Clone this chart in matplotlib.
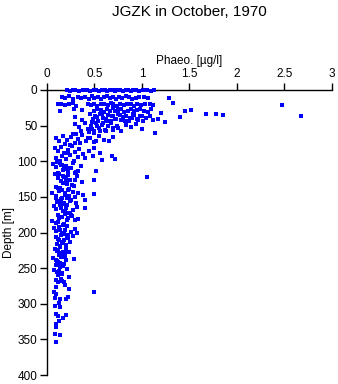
import matplotlib.pyplot as plt
import numpy as np

plt.rcParams['font.family'] = ['Liberation Sans', 'DejaVu Sans']

# Phaeo [ug/l] and depth [m]
phaeo_0_2 = [0.21, 0.24, 0.27, 0.3, 0.34, 0.38, 0.42, 0.45, 0.49, 0.52, 0.55, 0.58, 0.61, 0.63, 0.66,
             0.69, 0.72, 0.74, 0.77, 0.8, 0.83, 0.85, 0.88, 0.91, 0.94, 0.97, 1.01, 1.05, 1.09, 1.13]
depth_0_2 = [0, 1, 0, 0, 1, 0, 0, 1, 0, 0, 1, 0, 0, 1, 0, 0, 1, 0, 0, 1, 0, 0, 1, 0, 0, 1, 0, 0, 1, 0]

phaeo_10 = [0.16, 0.19, 0.23, 0.27, 0.33, 0.36, 0.4, 0.44, 0.47, 0.5, 0.54, 0.57, 0.6, 0.63, 0.66, 0.7,
            0.73, 0.76, 0.79, 0.83, 0.86, 0.9, 0.94, 0.97, 1.02, 1.06, 1.28]
depth_10 = [10, 11, 9, 12, 10, 11, 10, 12, 9, 11, 10, 12, 10, 9, 11, 10, 12, 10, 11, 9, 10, 12, 11, 10,
            10, 11, 11]

phaeo_20 = [0.12, 0.15, 0.19, 0.23, 0.27, 0.31, 0.43, 0.46, 0.5, 0.53, 0.57, 0.6, 0.64, 0.67, 0.7, 0.74,
            0.77, 0.81, 0.84, 0.88, 0.92, 0.95, 0.99, 1.03, 1.08, 1.12, 1.33, 2.47]
depth_20 = [20, 19, 21, 20, 18, 22, 19, 21, 20, 22, 19, 20, 21, 18, 20, 22, 19, 21, 20, 19, 22, 20, 21,
            19, 20, 21, 18, 21]

phaeo_30 = [0.14, 0.28, 0.37, 0.5, 0.53, 0.57, 0.6, 0.63, 0.66, 0.69, 0.72, 0.75, 0.78, 0.81, 0.85, 0.88,
            0.92, 0.95, 0.98, 1.02, 1.06, 1.1, 1.45, 1.52, 1.2]
depth_30 = [29, 27, 28, 30, 26, 28, 31, 27, 29, 25, 30, 28, 26, 31, 29, 27, 30, 28, 26, 29, 31, 27, 30,
            28, 32]

phaeo_40 = [0.3, 0.37, 0.45, 0.48, 0.51, 0.54, 0.56, 0.59, 0.62, 0.64, 0.67, 0.7, 0.72, 0.75, 0.78, 0.8,
            0.83, 0.86, 0.89, 0.92, 0.95, 0.98, 1.01, 1.04, 1.08, 1.12, 1.17, 0.47, 0.53, 0.58, 0.63,
            0.68, 0.73, 0.77, 0.82, 0.87, 0.91, 0.96, 1.0, 1.4, 1.67, 1.78, 1.85, 2.67, 1.24]
depth_40 = [38, 42, 34, 40, 36, 43, 33, 39, 41, 35, 44, 37, 40, 34, 42, 38, 36, 43, 39, 35, 41, 37, 44,
            39, 36, 42, 40, 45, 38, 33, 44, 36, 41, 35, 43, 39, 34, 42, 37, 38, 34, 33, 35, 37, 45]

phaeo_50 = [0.3, 0.34, 0.4, 0.43, 0.46, 0.49, 0.52, 0.55, 0.58, 0.61, 0.64, 0.67, 0.7, 0.74, 0.78, 0.83,
            0.88, 0.94, 1.0, 1.14, 0.44, 0.5, 0.56, 0.62, 0.69, 0.75, 0.36, 0.47, 0.53, 0.59]
depth_50 = [48, 52, 46, 55, 50, 58, 47, 53, 49, 56, 51, 47, 54, 50, 57, 49, 52, 48, 55, 61, 59, 60, 57,
            58, 56, 53, 57, 55, 51, 47]

phaeo_70 = [0.1, 0.13, 0.17, 0.21, 0.25, 0.29, 0.33, 0.37, 0.41, 0.45, 0.5, 0.55, 0.6, 0.65, 0.7, 0.19,
            0.27, 0.35, 0.43, 0.52, 0.24, 0.31]
depth_70 = [68, 72, 64, 70, 66, 74, 69, 63, 71, 67, 73, 65, 70, 72, 66, 76, 62, 75, 68, 71, 77, 62]

phaeo_90 = [0.08, 0.12, 0.15, 0.18, 0.22, 0.26, 0.3, 0.34, 0.38, 0.44, 0.5, 0.56, 0.68, 0.1, 0.16, 0.2,
            0.24, 0.28, 0.33, 0.4, 0.48, 0.58, 0.72, 0.14, 0.22]
depth_90 = [82, 86, 80, 88, 84, 79, 87, 83, 90, 85, 81, 89, 92, 95, 93, 97, 91, 99, 94, 96, 92, 98, 97,
            100, 89]

phaeo_110 = [0.06, 0.1, 0.14, 0.17, 0.2, 0.23, 0.27, 0.31, 0.36, 0.52, 0.12, 0.16, 0.19, 0.22, 0.25,
             0.29, 0.33, 0.08, 1.05]
depth_110 = [104, 108, 102, 112, 106, 110, 103, 115, 107, 113, 117, 105, 111, 119, 109, 116, 114, 118,
             122]

phaeo_130 = [0.12, 0.15, 0.18, 0.21, 0.24, 0.28, 0.32, 0.37, 0.49, 0.14, 0.17, 0.2, 0.23, 0.26, 0.3,
             0.1, 0.19]
depth_130 = [124, 128, 122, 132, 126, 135, 121, 129, 127, 137, 131, 125, 139, 133, 127, 136, 130]

phaeo_150 = [0.05, 0.09, 0.13, 0.16, 0.19, 0.22, 0.25, 0.29, 0.33, 0.38, 0.5, 0.11, 0.15, 0.18, 0.21,
             0.24, 0.27, 0.31, 0.4]
depth_150 = [145, 149, 142, 152, 147, 141, 154, 150, 144, 148, 146, 157, 153, 159, 151, 156, 143, 158,
             155]

phaeo_175 = [0.07, 0.1, 0.14, 0.17, 0.2, 0.23, 0.27, 0.32, 0.4, 0.12, 0.16, 0.19, 0.22, 0.25, 0.3,
             0.05, 0.09, 0.13, 0.18, 0.21, 0.26, 0.33]
depth_175 = [163, 167, 161, 170, 165, 172, 168, 164, 166, 175, 178, 174, 180, 176, 182, 184, 186, 179,
             188, 183, 177, 181]

phaeo_205 = [0.07, 0.1, 0.13, 0.16, 0.19, 0.22, 0.25, 0.29, 0.32, 0.09, 0.12, 0.15, 0.18, 0.21, 0.24,
             0.27, 0.11, 0.14, 0.17, 0.2]
depth_205 = [194, 198, 192, 201, 196, 203, 199, 195, 200, 206, 209, 204, 211, 207, 213, 205, 216, 219,
             214, 217]

phaeo_240 = [0.08, 0.11, 0.14, 0.17, 0.2, 0.23, 0.13, 0.16, 0.19, 0.06, 0.1, 0.15, 0.2, 0.28, 0.12,
             0.09, 0.14, 0.18, 0.07, 0.11, 0.16, 0.23]
depth_240 = [223, 226, 221, 228, 224, 227, 231, 234, 230, 236, 239, 235, 238, 237, 242, 246, 249, 244,
             252, 255, 258, 263]

# the dense column between 100 and 270 m
phaeo_column = [0.11, 0.15, 0.18, 0.22, 0.13, 0.17, 0.2, 0.26, 0.12, 0.16, 0.19, 0.23, 0.1, 0.14, 0.18,
                0.21, 0.15, 0.19, 0.24, 0.12, 0.17, 0.21, 0.14, 0.18, 0.22, 0.13, 0.16, 0.2, 0.12, 0.15,
                0.19, 0.11, 0.14, 0.17, 0.21, 0.13, 0.16, 0.12, 0.15, 0.18]
depth_column = [101, 105, 109, 113, 118, 121, 126, 133, 138, 140, 144, 149, 152, 156, 160, 162, 166,
                171, 173, 185, 189, 191, 197, 202, 208, 210, 215, 220, 225, 229, 233, 240, 243, 247,
                251, 254, 257, 260, 265, 269]

phaeo_deep = [0.09, 0.12, 0.16, 0.19, 0.1, 0.23, 0.5, 0.07, 0.1, 0.08, 0.14, 0.2, 0.22, 0.13, 0.08,
              0.14, 0.09, 0.12, 0.2, 0.17, 0.13, 0.09, 0.1, 0.08, 0.14, 0.1]
depth_deep = [266, 270, 268, 274, 276, 279, 284, 283, 286, 292, 294, 293, 291, 299, 303, 305, 314, 317,
              316, 320, 324, 329, 333, 343, 344, 353]

phaeo = np.concatenate([phaeo_0_2, phaeo_10, phaeo_20, phaeo_30, phaeo_40, phaeo_50, phaeo_70,
                        phaeo_90, phaeo_110, phaeo_130, phaeo_150, phaeo_175, phaeo_205, phaeo_240,
                        phaeo_column, phaeo_deep])
depth = np.concatenate([depth_0_2, depth_10, depth_20, depth_30, depth_40, depth_50, depth_70,
                        depth_90, depth_110, depth_130, depth_150, depth_175, depth_205, depth_240,
                        depth_column, depth_deep])

fig = plt.figure(figsize=(3.38, 3.84), dpi=100)
ax = fig.add_axes([47 / 338, 9 / 384, 285 / 338, 285 / 384])

ax.scatter(phaeo, depth, s=5, marker='s', color='#0000ff', linewidths=0, clip_on=False, zorder=3)

ax.set_xlim(0, 3)
ax.set_ylim(400, 0)
ax.set_xticks([0, 0.5, 1, 1.5, 2, 2.5, 3])
ax.set_xticklabels(['0', '0.5', '1', '1.5', '2', '2.5', '3'])
ax.set_yticks([0, 50, 100, 150, 200, 250, 300, 350, 400])

ax.xaxis.tick_top()
ax.xaxis.set_label_position('top')
ax.set_xlabel('Phaeo. [\u00b5g/l]', fontsize=8.5, labelpad=3)
ax.set_ylabel('Depth [m]', fontsize=8.5, labelpad=2)

for side in ['bottom', 'right']:
    ax.spines[side].set_visible(False)
for side in ['top', 'left']:
    ax.spines[side].set_linewidth(1)
ax.tick_params(axis='both', direction='out', length=5, width=1, labelsize=8.5, pad=2)

fig.text(189.5 / 338, 1 - 12 / 384, 'JGZK in October, 1970', ha='center', va='center', fontsize=11)

plt.savefig('out.png', dpi=100)
